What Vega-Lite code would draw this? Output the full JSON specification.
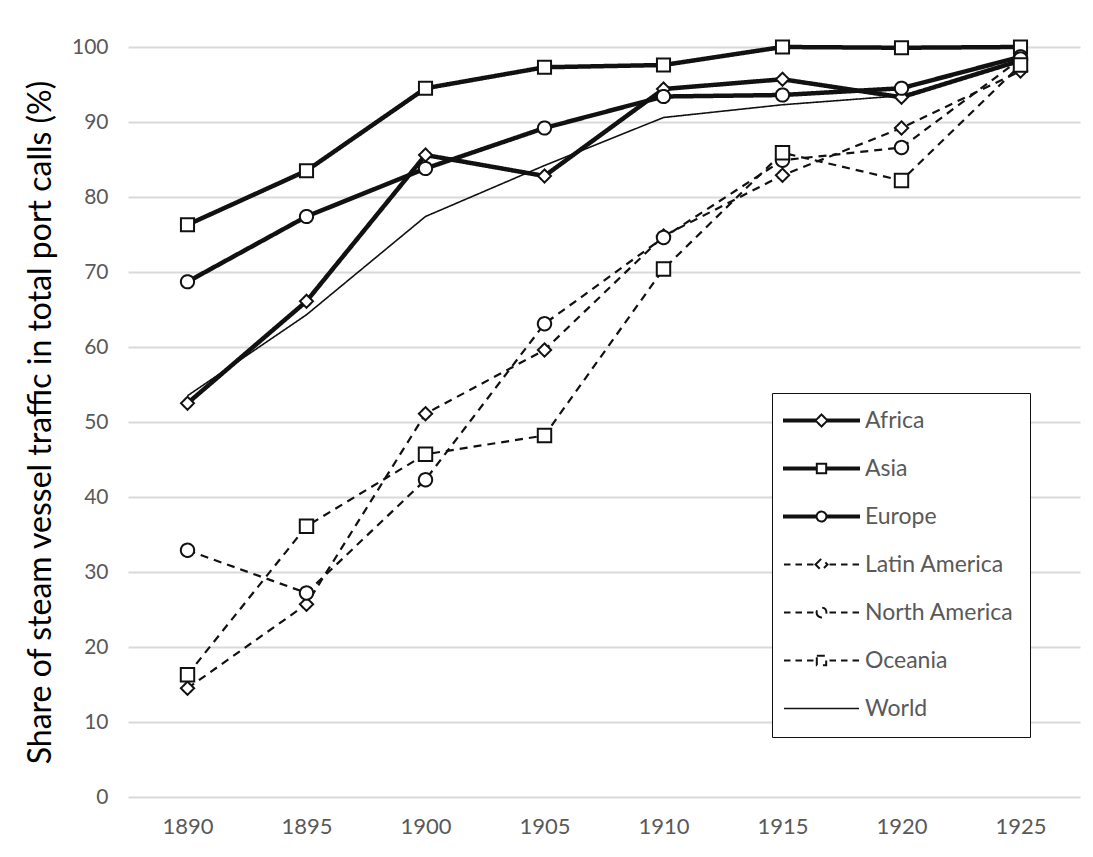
{
  "$schema": "https://vega.github.io/schema/vega-lite/v6.json",
  "autosize": {"type": "none"},
  "padding": {"left": 128, "top": 47, "right": 13, "bottom": 60},
  "width": 952,
  "height": 750,
  "background": "white",
  "config": {
    "font": "Lato",
    "view": {"stroke": null},
    "axis": {"labelFont": "Lato"},
    "legend": {"labelFont": "Lato"}
  },
  "data": {
    "values": [
      {"year": "1890", "region": "Africa", "value": 52.5},
      {"year": "1895", "region": "Africa", "value": 66.1},
      {"year": "1900", "region": "Africa", "value": 85.6},
      {"year": "1905", "region": "Africa", "value": 82.8},
      {"year": "1910", "region": "Africa", "value": 94.4},
      {"year": "1915", "region": "Africa", "value": 95.7},
      {"year": "1920", "region": "Africa", "value": 93.3},
      {"year": "1925", "region": "Africa", "value": 98.2},
      {"year": "1890", "region": "Asia", "value": 76.3},
      {"year": "1895", "region": "Asia", "value": 83.5},
      {"year": "1900", "region": "Asia", "value": 94.5},
      {"year": "1905", "region": "Asia", "value": 97.3},
      {"year": "1910", "region": "Asia", "value": 97.6},
      {"year": "1915", "region": "Asia", "value": 100},
      {"year": "1920", "region": "Asia", "value": 99.9},
      {"year": "1925", "region": "Asia", "value": 100},
      {"year": "1890", "region": "Europe", "value": 68.7},
      {"year": "1895", "region": "Europe", "value": 77.4},
      {"year": "1900", "region": "Europe", "value": 83.8},
      {"year": "1905", "region": "Europe", "value": 89.2},
      {"year": "1910", "region": "Europe", "value": 93.4},
      {"year": "1915", "region": "Europe", "value": 93.6},
      {"year": "1920", "region": "Europe", "value": 94.5},
      {"year": "1925", "region": "Europe", "value": 98.7},
      {"year": "1890", "region": "Latin America", "value": 14.5},
      {"year": "1895", "region": "Latin America", "value": 25.7},
      {"year": "1900", "region": "Latin America", "value": 51.1},
      {"year": "1905", "region": "Latin America", "value": 59.6},
      {"year": "1910", "region": "Latin America", "value": 74.8},
      {"year": "1915", "region": "Latin America", "value": 82.9},
      {"year": "1920", "region": "Latin America", "value": 89.2},
      {"year": "1925", "region": "Latin America", "value": 96.8},
      {"year": "1890", "region": "North America", "value": 32.9},
      {"year": "1895", "region": "North America", "value": 27.2},
      {"year": "1900", "region": "North America", "value": 42.3},
      {"year": "1905", "region": "North America", "value": 63.1},
      {"year": "1910", "region": "North America", "value": 74.6},
      {"year": "1915", "region": "North America", "value": 84.9},
      {"year": "1920", "region": "North America", "value": 86.6},
      {"year": "1925", "region": "North America", "value": 98.4},
      {"year": "1890", "region": "Oceania", "value": 16.3},
      {"year": "1895", "region": "Oceania", "value": 36.1},
      {"year": "1900", "region": "Oceania", "value": 45.7},
      {"year": "1905", "region": "Oceania", "value": 48.2},
      {"year": "1910", "region": "Oceania", "value": 70.4},
      {"year": "1915", "region": "Oceania", "value": 85.9},
      {"year": "1920", "region": "Oceania", "value": 82.2},
      {"year": "1925", "region": "Oceania", "value": 97.6},
      {"year": "1890", "region": "World", "value": 53.5},
      {"year": "1895", "region": "World", "value": 64.3},
      {"year": "1900", "region": "World", "value": 77.4},
      {"year": "1905", "region": "World", "value": 84.2},
      {"year": "1910", "region": "World", "value": 90.6},
      {"year": "1915", "region": "World", "value": 92.3},
      {"year": "1920", "region": "World", "value": 93.5},
      {"year": "1925", "region": "World", "value": 98.0}
    ]
  },
  "encoding": {
    "x": {
      "field": "year", "type": "ordinal",
      "scale": {"type": "point", "padding": 0.5},
      "axis": {
        "title": null, "labelAngle": 0, "domain": false, "ticks": false, "grid": false,
        "labelFontSize": 22, "labelColor": "#595959", "labelPadding": 19
      }
    },
    "y": {
      "field": "value", "type": "quantitative",
      "scale": {"domain": [0, 100], "nice": false},
      "axis": {
        "title": "Share of steam vessel traffic in total port calls (%)",
        "values": [0, 10, 20, 30, 40, 50, 60, 70, 80, 90, 100],
        "domain": false, "ticks": false,
        "gridColor": "#d9d9d9", "gridWidth": 2,
        "labelFontSize": 21, "labelColor": "#595959", "labelPadding": 20,
        "titleFont": "Liberation Sans Narrow, Lato",
        "titleFontSize": 32, "titleFontWeight": "normal", "titleColor": "#000000",
        "titleX": -88, "titleY": 375, "titleAngle": -90, "titleAlign": "center", "titleBaseline": "middle"
      }
    },
    "strokeDash": {
      "field": "region", "type": "nominal",
      "scale": {
        "domain": ["Africa", "Asia", "Europe", "Latin America", "North America", "Oceania", "World"],
        "range": [[1, 0], [1, 0], [1, 0], [8, 6], [8, 6], [8, 6], [1, 0]]
      },
      "legend": {
        "title": null, "orient": "none", "legendX": 644, "legendY": 346,
        "symbolType": "M-8,0H8", "symbolSize": 88, "symbolStrokeColor": "#111111",
        "symbolOffset": 22,
        "labelFontSize": 23, "labelColor": "#595959", "labelOffset": 32,
        "padding": 16, "rowPadding": 24,
        "strokeColor": "#111111", "fillColor": "white",
        "encode": {
          "symbols": {
            "update": {
              "shape": {"signal": "datum.value === 'Africa' ? 'M-8,-0.21H-1.28V0.21H-8Z M1.28,-0.21H8V0.21H1.28Z M-1.28,0L0,-1.28L1.28,0L0,1.28Z' : datum.value === 'Asia' ? 'M-8,-0.21H-1V0.21H-8Z M1,-0.21H8V0.21H1Z M-1,-1H1V1H-1Z' : datum.value === 'Europe' ? 'M-8,-0.21H-1.05V0.21H-8Z M1.05,-0.21H8V0.21H1.05Z M-1.05,0A1.05,1.05 0 1,0 1.05,0A1.05,1.05 0 1,0 -1.05,0Z' : datum.value === 'Latin America' ? 'M-8,0H-6.61M-5.55,0H-4.16M-3.09,0H-1.71M1.71,0H3.09M4.16,0H5.55M6.61,0H8M-1.28,0L0,-1.28L1.28,0L0,1.28Z' : datum.value === 'North America' ? 'M-8,0H-6.61M-5.55,0H-4.16M-3.09,0H-1.71M1.71,0H3.09M4.16,0H5.55M6.61,0H8M-1.05,0A1.05,1.05 0 1,0 1.05,0A1.05,1.05 0 1,0 -1.05,0Z' : datum.value === 'Oceania' ? 'M-8,0H-6.61M-5.55,0H-4.16M-3.09,0H-1.71M1.71,0H3.09M4.16,0H5.55M6.61,0H8M-1,-1H1V1H-1Z' : 'M-8,0H8'"},
              "strokeWidth": {"signal": "datum.value === 'World' ? 1.6 : 2"},
              "strokeDash": {"value": [1, 0]},
              "fill": {"value": "white"},
              "fillOpacity": {"value": 1},
              "stroke": {"value": "#111111"},
              "strokeOpacity": {"value": 1},
              "opacity": {"value": 1}
            }
          }
        }
      }
    }
  },
  "layer": [
    {
      "transform": [{"filter": "datum.region === 'Africa' || datum.region === 'Asia' || datum.region === 'Europe'"}],
      "mark": {"type": "line", "color": "#111111", "strokeWidth": 4.5}
    },
    {
      "transform": [{"filter": "datum.region === 'Latin America' || datum.region === 'North America' || datum.region === 'Oceania'"}],
      "mark": {"type": "line", "color": "#111111", "strokeWidth": 2.2}
    },
    {
      "transform": [{"filter": "datum.region === 'World'"}],
      "mark": {"type": "line", "color": "#111111", "strokeWidth": 1.6}
    },
    {
      "transform": [{"filter": "datum.region !== 'World'"}],
      "mark": {"type": "point", "filled": true, "fill": "white", "stroke": "#111111", "strokeWidth": 2, "opacity": 1},
      "encoding": {
        "strokeDash": {"value": [1, 0]},
        "shape": {
          "field": "region", "type": "nominal",
          "scale": {
            "domain": ["Africa", "Asia", "Europe", "Latin America", "North America", "Oceania"],
            "range": ["diamond", "square", "circle", "diamond", "circle", "square"]
          },
          "legend": null
        },
        "size": {
          "field": "region", "type": "nominal",
          "scale": {
            "domain": ["Oceania", "North America", "Latin America", "Europe", "Asia", "Africa"],
            "range": [180, 170, 260, 170, 180, 260]
          },
          "legend": null
        }
      }
    }
  ]
}
